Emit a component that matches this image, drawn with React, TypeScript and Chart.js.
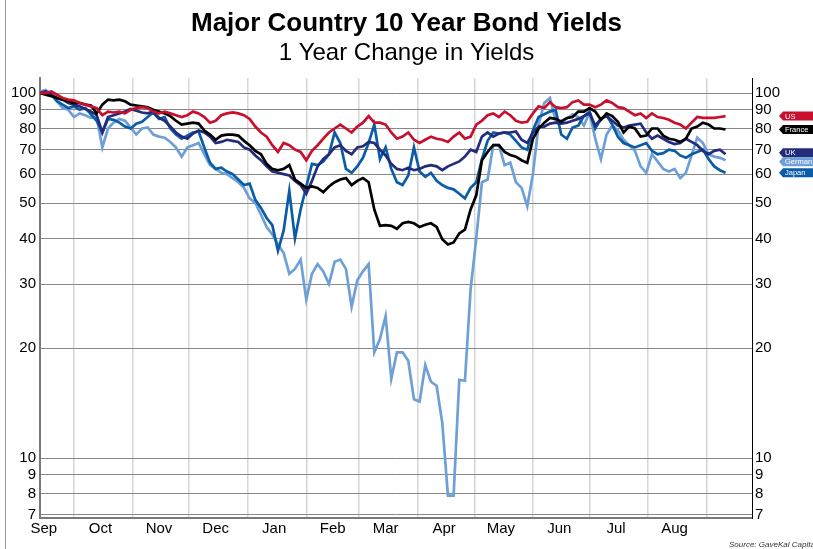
import React, { useEffect, useRef } from "react";
import { Chart, registerables } from "chart.js";

Chart.register(...registerables);

// Observation days, counted from the first observation (mid-September), one every 3 days
const stepDays = 3;
const pointCount = 122;
const obsDays: number[] = Array.from({ length: pointCount }, (_, i) => i * stepDays);

// Day offsets of month starts (gridlines) and month labels (mid-month)
const monthStartDays = [18, 49, 79, 110, 141, 169, 200, 230, 261, 291, 322, 353];
const monthLabels = ["Sep", "Oct", "Nov", "Dec", "Jan", "Feb", "Mar", "Apr", "May", "Jun", "Jul", "Aug"];
const monthLabelDays = [2, 32, 63, 93, 124, 155, 183, 214, 244, 275, 305, 336];
const xMaxDay = 377;

// Log axis
const yTicks = [7, 8, 9, 10, 20, 30, 40, 50, 60, 70, 80, 90, 100];
const yMin = 6.86;
const yMax = 110;

// Series (indexed to 100 one year earlier)
const usValues = [
  100, 100, 101, 99, 97, 96, 95.5, 94, 93, 92,
  91, 87, 89, 88.5, 89, 88, 90, 91, 91.5, 91,
  89, 88, 89, 88, 87, 86, 87, 89, 88, 86,
  83, 84, 87, 88, 88.5, 88, 87, 85, 81, 78,
  76, 72, 69, 73, 72, 70, 69, 65.5, 69.5, 72,
  75, 78, 80, 82, 80, 78, 81, 83, 86.5, 83,
  83, 82, 78, 75, 76, 78, 74.5, 73, 74.5, 76,
  75, 74.5, 73.5, 76, 78, 75, 76, 82, 84, 87,
  88, 86, 89, 87, 84, 83, 83.5, 88, 92, 91,
  94.5, 91.5, 91, 91.5, 94.5, 95.5, 93, 93, 91.5, 93,
  95.5, 94, 91.5, 91, 89, 87, 88, 85.5, 88, 86,
  85.5, 84.5, 83, 82, 80, 83, 86, 85.5, 85.5, 85.5,
  86, 86.5,
];
const franceValues = [
  100, 99, 98, 97, 96, 95, 94, 94, 93, 92.5,
  88, 93, 96, 95.5, 96, 95, 93, 92.5, 92, 91.5,
  90, 89, 88, 86.5, 84, 82, 82.5, 83, 82.5, 79,
  77, 74.5, 76.5, 77, 77, 76.5, 74, 72, 69.5, 68,
  64, 62, 61.5, 62, 63.5, 58, 56.5, 55, 55.5, 55,
  53.5, 55.5, 57, 58, 58.5, 56, 57.5, 58.5, 57, 48,
  43.3, 43.5, 43.3, 42.5, 44, 44.4, 44, 43, 43.6, 44,
  43, 39.8, 38.5, 39, 41.3, 42.3, 48, 52.5, 65.5, 69,
  72, 72, 69, 67.7, 67, 65.5, 64.4, 75, 80, 83,
  85.5, 85, 83.5, 85.5, 86, 89, 89, 91, 89, 84.5,
  88, 86.5, 83.5, 78, 81, 80, 76, 76.5, 80, 80,
  76.5, 75, 74.5, 73.5, 75, 80, 81, 83, 82, 80,
  80, 79.5,
];
const ukValues = [
  100, 101, 99, 97, 96, 94, 93, 92, 90.5, 89,
  87, 78, 86, 87, 88, 89, 90.5, 89.5, 88.5, 88,
  89, 85.5, 84, 81, 78, 76, 75, 77.5, 79, 78,
  76, 73, 73.5, 74.5, 74, 73.5, 71, 70, 67.5, 65.5,
  63, 61, 60.5, 60, 59.5, 57.5, 56, 53, 57.5, 63,
  66, 68, 71, 72, 69.5, 68, 71, 71.5, 73.5, 73,
  70, 67.5, 64, 62, 61.5, 62.5, 61.5, 62, 63, 63.5,
  63, 61.5, 63, 64, 65, 67, 70, 69, 76, 78,
  76, 77.5, 78, 78, 78.5, 74.5, 73, 78, 81, 81,
  82.5, 83, 82.5, 83, 84, 85, 86.5, 88, 81.5, 85,
  86.5, 84, 81.5, 80.5, 81.5, 82, 82.5, 78, 75, 76.5,
  75, 73.5, 72.5, 73, 75, 73.5, 72, 69.5, 68, 69.5,
  70, 68,
];
const germanValues = [
  101, 102, 99, 95, 91, 90, 86, 88, 87, 85.5,
  86, 71, 80, 83, 85, 84, 80.5, 77, 80, 80.5,
  77, 76, 75.5, 73.5, 71, 67, 71, 72, 73, 68,
  63.5, 62, 60.5, 60, 58.5, 57, 55, 51.5, 50, 46.5,
  43, 41, 38.5, 36.5, 32, 33, 35, 27.2, 32, 34,
  32.5, 30, 34.5, 35, 33, 26, 30.7, 32.5, 34, 19.5,
  21.2, 24.5, 16.5, 19.5, 19.5, 18.5, 14.5, 14.3, 18, 16.2,
  15.8, 12.5, 7.9, 7.9, 16.4, 16.3, 29, 40, 57, 58,
  72, 72, 63.5, 64.5, 57, 55, 49, 60, 82, 94,
  97, 84, 84, 85, 87.5, 86, 81.5, 88.5, 75, 66,
  77, 81.5, 79, 74.5, 72, 69.5, 63, 60.5, 68, 65,
  62, 61, 62, 58.5, 60.5, 67.5, 75.5, 73, 68, 67,
  66.5, 65.5,
];
const japanValues = [
  100, 101, 99, 95, 93, 91, 92, 90, 91, 87.5,
  84, 78, 85, 84.5, 83, 81, 80, 82.5, 83.5, 86,
  88.5, 85, 86, 80, 77, 75, 76.5, 78, 78.5, 71,
  64.5, 62, 62.5, 61, 60, 58, 56, 56.5, 51, 48.5,
  45.5, 43.5, 37, 42, 54, 40, 48, 55.5, 64, 63.5,
  65, 68, 78, 73, 62, 60.5, 63, 66.5, 73, 82,
  66, 71, 62, 57, 56, 59.5, 71, 61, 59, 60.5,
  57.5, 56, 55, 54.5, 53, 51.5, 55, 57, 66, 74,
  78, 77.5, 78, 77, 74, 71, 70, 79, 86, 87.5,
  89, 90, 77, 75, 80.5, 81.5, 86.5, 89, 80, 85,
  87, 82, 76, 73, 72, 71, 72, 73, 69.5, 68,
  68.5, 70, 69.5, 67.5, 66.5, 68, 69, 70, 66, 63,
  61.5, 60.5,
];

const seriesNames = ["US", "France", "UK", "Japan", "German"];
const seriesColors = ["#C8102E", "#000000", "#232C7A", "#0A5CA6", "#6E9FD6"];
const seriesValues = [usValues, franceValues, ukValues, japanValues, germanValues];

const FONT = '"Liberation Sans", Arial, sans-serif';

const tagPlugin = {
  id: "tags",
  afterDraw(chart: any) {
    const ctx = chart.ctx as CanvasRenderingContext2D;
    const ys = chart.scales.y;
    const area = chart.chartArea;
    const h = 9;
    const items = seriesNames.map((name, i) => {
      const vals = seriesValues[i];
      return { name, color: seriesColors[i], y: ys.getPixelForValue(vals[vals.length - 1]) };
    });
    items.sort((a, b) => a.y - b.y);
    for (let iter = 0; iter < 20; iter++) {
      for (let k = 1; k < items.length; k++) {
        const gap = items[k].y - items[k - 1].y;
        if (gap < h) {
          const d = (h - gap) / 2;
          items[k - 1].y -= d;
          items[k].y += d;
        }
      }
    }
    ctx.save();
    const x0 = area.right + 27;
    items.forEach((it) => {
      const top = it.y - h / 2;
      ctx.beginPath();
      ctx.moveTo(x0, it.y);
      ctx.lineTo(x0 + 4, top);
      ctx.lineTo(chart.width + 5, top);
      ctx.lineTo(chart.width + 5, top + h);
      ctx.lineTo(x0 + 4, top + h);
      ctx.closePath();
      ctx.fillStyle = it.color;
      ctx.fill();
      ctx.fillStyle = "#ffffff";
      ctx.font = `7.5px ${FONT}`;
      ctx.textBaseline = "middle";
      ctx.textAlign = "left";
      ctx.fillText(it.name, x0 + 6, it.y + 0.5);
    });
    // source note
    ctx.fillStyle = "#333333";
    ctx.font = `italic 8px ${FONT}`;
    ctx.textBaseline = "middle";
    ctx.fillText("Source: GaveKal Capital", 729, 545);
    // outer frame line
    ctx.strokeStyle = "#9a9a9a";
    ctx.lineWidth = 1;
    ctx.beginPath();
    ctx.moveTo(5.5, 0);
    ctx.lineTo(5.5, chart.height);
    ctx.stroke();
    ctx.restore();
  },
};

export default function App() {
  const ref = useRef<HTMLCanvasElement | null>(null);
  useEffect(() => {
    if (!ref.current) return;
    const monthStartSet = new Set(monthStartDays);
    const labelByDay = new Map<number, string>();
    monthLabelDays.forEach((d, i) => labelByDay.set(d, monthLabels[i]));
    const xTickDays = [...monthStartDays, ...monthLabelDays].sort((a, b) => a - b);

    const yAxisBase = (position: string) => ({
      type: "logarithmic" as const,
      position,
      min: yMin,
      max: yMax,
      afterBuildTicks: (s: any) => {
        s.ticks = yTicks.map((v) => ({ value: v }));
      },
      ticks: {
        callback: (v: any) => String(v),
        font: { family: FONT, size: 15 },
        color: "#000000",
        padding: position === "left" ? 4 : 3,
        autoSkip: false,
      },
    });

    const chart = new Chart(ref.current, {
      type: "line",
      data: {
        datasets: seriesNames.map((name, i) => ({
          label: name,
          data: obsDays.map((d, k) => ({ x: d, y: seriesValues[i][k] })),
          borderColor: seriesColors[i],
          backgroundColor: seriesColors[i],
          borderWidth: 2.7,
          pointRadius: 0,
          tension: 0,
          fill: false,
          xAxisID: "x",
          yAxisID: "y",
        })),
      },
      options: {
        responsive: false,
        animation: false,
        devicePixelRatio: 1,
        layout: { padding: 0 },
        plugins: {
          legend: { display: false },
          tooltip: { enabled: false },
          title: {
            display: true,
            text: "Major Country 10 Year Bond Yields",
            color: "#000000",
            font: { family: FONT, size: 26, weight: "bold", lineHeight: 1.2 },
            padding: { top: 8, bottom: 0 },
          },
          subtitle: {
            display: true,
            text: "1 Year Change in Yields",
            color: "#000000",
            font: { family: FONT, size: 24, weight: "normal", lineHeight: 1.2 },
            padding: { top: 0, bottom: 10 },
          },
        },
        scales: {
          x: {
            type: "linear",
            min: 0,
            max: xMaxDay,
            afterBuildTicks: (s: any) => {
              s.ticks = xTickDays.map((v) => ({ value: v }));
            },
            afterFit: (s: any) => {
              s.height = 31;
            },
            grid: {
              color: (c: any) => (c.tick && monthStartSet.has(c.tick.value) ? "#d6d6d6" : "rgba(0,0,0,0)"),
              lineWidth: 1.5,
              drawTicks: false,
            },
            border: { color: "#7a7a7a", width: 2 },
            ticks: {
              autoSkip: false,
              maxRotation: 0,
              padding: 2,
              font: { family: FONT, size: 15 },
              color: "#000000",
              callback: (v: any) => labelByDay.get(Number(v)) ?? "",
            },
          },
          y: {
            ...yAxisBase("left"),
            afterFit: (s: any) => {
              s.width = 40;
            },
            grid: { color: "#888888", lineWidth: 1, drawTicks: false },
            border: { color: "#7a7a7a", width: 2 },
          },
          y2: {
            ...yAxisBase("right"),
            afterFit: (s: any) => {
              s.width = 61;
            },
            grid: { display: false, drawTicks: false },
            border: { color: "#000000", width: 1 },
          },
        },
      } as any,
      plugins: [tagPlugin],
    });
    return () => chart.destroy();
  }, []);

  return (
    <div style={{ position: "absolute", left: 0, top: 0, width: 813, height: 549, background: "#ffffff" }}>
      <canvas ref={ref} width={813} height={549} style={{ display: "block" }} />
    </div>
  );
}
